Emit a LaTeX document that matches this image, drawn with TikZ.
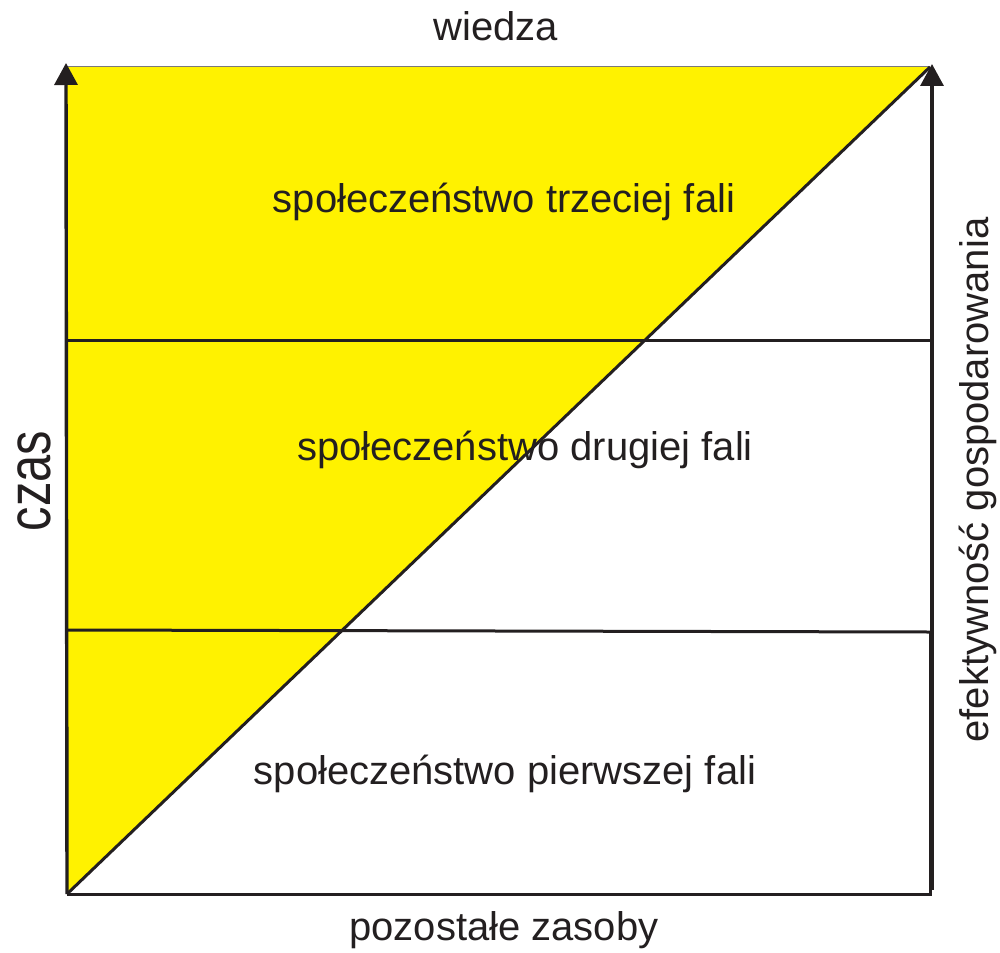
\documentclass[tikz,border=0pt]{standalone}
\usepackage{fontspec}
\setmainfont{Liberation Sans}
\definecolor{waveYellow}{RGB}{255,242,0}
\definecolor{inkBlack}{RGB}{35,31,32}
\usetikzlibrary{arrows.meta}

\begin{document}
\begin{tikzpicture}[x=1pt, y=-1pt,
        lbl/.style={anchor=base, inner sep=0pt, text=inkBlack,
                    font=\fontsize{40}{48}\selectfont},
        edge/.style={draw=inkBlack, line width=3pt},
        axis/.style={-{Triangle[length=22pt 0, width=23pt 0]}, draw=inkBlack,
                     line width=3.4pt}
      ]
      \useasboundingbox (0,0) rectangle (1000,952);
      % corners of the square
      \coordinate (bl) at (67,894);
      \coordinate (tl) at (67,67);
      \coordinate (tr) at (930,67);
      \coordinate (br) at (930,894);
      \coordinate (l2) at (67,340);
      \coordinate (r2) at (930,340);
      \coordinate (l1) at (67,630);
      \coordinate (r1) at (930,632);
      \coordinate (yTop) at (66,63);
      \coordinate (xBot) at (932,890);
      \coordinate (xTop) at (932,64);
      \fill[waveYellow] (tl) -- (tr) -- (bl) -- cycle;
      \draw[inkBlack!60, line width=1pt] (tl) -- (tr);
      \draw[edge] (bl) -- (br) -- (r1);
      \draw[edge] (l2) -- (r2);
      \draw[edge] (l1) -- (r1);
      \draw[edge] (bl) -- (tr);
      \draw[axis] (bl) -- (yTop);
      \draw[axis] (xBot) -- (xTop);
      % labels
      \node[lbl] (third) at (504,212) {społeczeństwo trzeciej fali};
      \node[lbl] (second) at (525,460) {społeczeństwo drugiej fali};
      \node[lbl] (first) at (505,784) {społeczeństwo pierwszej fali};
      \node[lbl] (res) at (504,940) {pozostałe zasoby};
      \node[lbl] (know) at (496,41) {wiedza};
      \node[lbl, rotate=90, font=\fontsize{61}{70}\selectfont] (time) at (50,481)
            {\scalebox{0.8}[1]{czas}};
      \node[lbl, rotate=90] (eff) at (988,480) {efektywność gospodarowania};
    \end{tikzpicture}
\end{document}
